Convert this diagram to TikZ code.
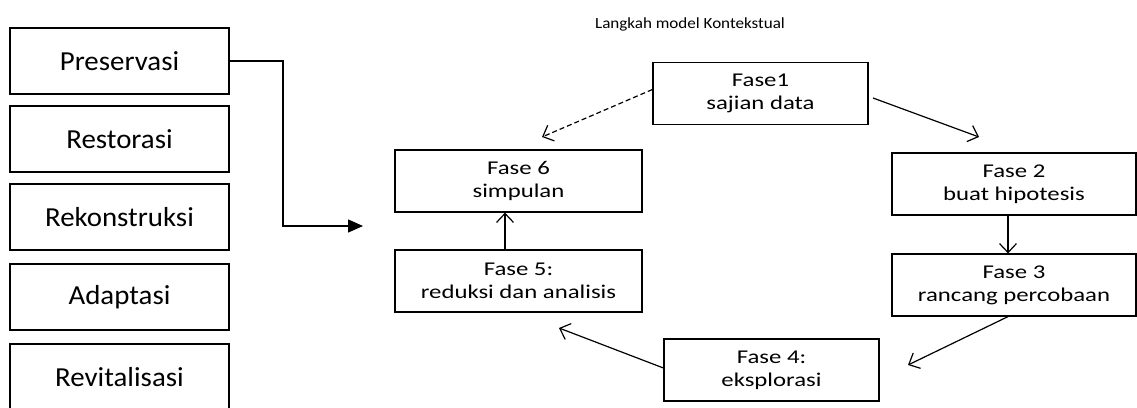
\documentclass[tikz,border=0pt]{standalone}
\usepackage{fontspec}
\setmainfont{Carlito}
\newfontfamily\fasefont[FakeStretch=1.27]{Carlito}
\newfontfamily\titlefont[FakeStretch=1.1]{Carlito}
\newfontfamily\leftfont[FakeStretch=1.05]{Carlito}
\usetikzlibrary{arrows.meta,calc}
\begin{document}
\begin{tikzpicture}[x=1pt,y=-1pt,
  leftbox/.style={draw,line width=1.4pt,minimum width=219pt,minimum height=66pt,inner sep=0pt,font=\leftfont\fontsize{27.5}{32}\selectfont},
  fasebox/.style={draw,line width=1.2pt,minimum height=62pt,inner sep=0pt,align=center,font=\fasefont\fontsize{19.5}{23}\selectfont},
  arr/.style={line width=1.2pt,-{Straight Barb[length=9pt,width=17pt,line width=1.2pt]}},
  bigarr/.style={line width=1.4pt,-{Triangle[length=15pt,width=13pt]}}]
\useasboundingbox (0,0) rectangle (1137,407);
\clip (0,0) rectangle (1137,407);
% left column
\node[leftbox] (pres) at (119.5,61) {Preservasi};
\node[leftbox] (rest) at (119.5,139) {Restorasi};
\node[leftbox] (rekon) at (119.5,217) {Rekonstruksi};
\node[leftbox] (adap) at (119.5,297) {Adaptasi};
\node[leftbox] (revit) at (119.5,377) {Revitalisasi};
\coordinate (tgt) at (363,226);
\draw[bigarr] (pres.east) -| ($(tgt)+(-80,0)$) -- (tgt);
% title
\node[font=\titlefont\fontsize{15.5}{18}\selectfont,anchor=base] (title) at (690,28) {Langkah model Kontekstual};
% phases
\node[fasebox,minimum width=215pt] (f1) at (760.5,93.5) {Fase1\\sajian data};
\node[fasebox,minimum width=244pt] (f2) at (1014,184) {Fase 2\\buat hipotesis};
\node[fasebox,minimum width=244pt] (f3) at (1014,285) {Fase 3\\rancang percobaan};
\node[fasebox,minimum width=215pt] (f4) at (771.5,370) {Fase 4:\\eksplorasi};
\node[fasebox,minimum width=247pt] (f5) at (518.5,281) {Fase 5:\\reduksi dan analisis};
\node[fasebox,minimum width=247pt] (f6) at (518.5,181) {Fase 6\\simpulan};
\coordinate (c6) at (542,137);
\coordinate (c1s) at (873,98);
\coordinate (c2) at (979,137);
\coordinate (c4) at (908,365);
\coordinate (c5) at (559,328);
\draw[arr,dash pattern=on 5pt off 3pt] ([yshift=4pt]f1.west) -- (c6);
\draw[arr] (c1s) -- (c2);
\draw[arr] ([xshift=-6pt]f2.south) -- ([xshift=-6pt]f3.north);
\draw[arr] ([xshift=-6pt]f3.south) -- (c4);
\draw[arr] ([yshift=2pt]f4.west) -- (c5);
\draw[arr] ([xshift=-13.5pt]f5.north) -- ([xshift=-13.5pt]f6.south);
\end{tikzpicture}
\end{document}
